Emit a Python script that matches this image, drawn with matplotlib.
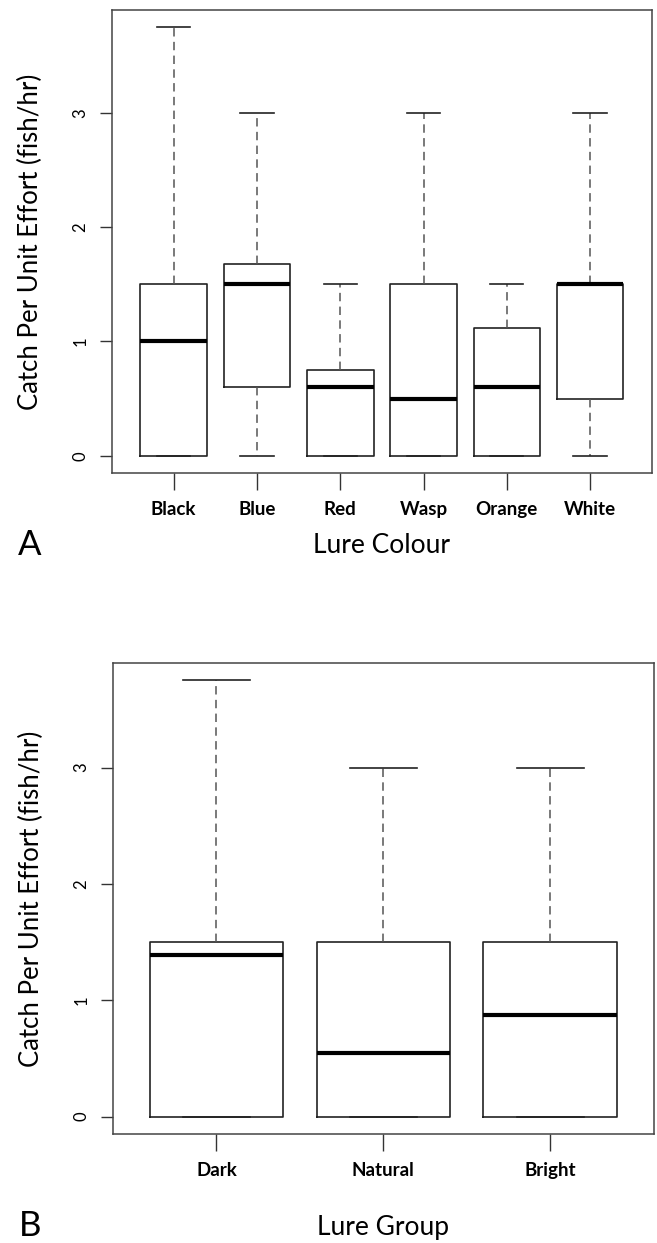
import matplotlib.pyplot as plt

# panel A: catch per unit effort by lure colour (box stats)
colours = ['Black', 'Blue', 'Red', 'Wasp', 'Orange', 'White']
colour_lo = [0, 0, 0, 0, 0, 0]
colour_q1 = [0, 0.6, 0, 0, 0, 0.5]
colour_med = [1.0, 1.5, 0.6, 0.5, 0.6, 1.5]
colour_q3 = [1.5, 1.68, 0.75, 1.5, 1.12, 1.5]
colour_hi = [3.75, 3.0, 1.5, 3.0, 1.5, 3.0]

# panel B: by lure group
groups = ['Dark', 'Natural', 'Bright']
group_lo = [0, 0, 0]
group_q1 = [0, 0, 0]
group_med = [1.39, 0.55, 0.87]
group_q3 = [1.5, 1.5, 1.5]
group_hi = [3.75, 3.0, 3.0]

plt.rcParams['font.family'] = ['Lato', 'DejaVu Sans']


def r_boxplot(ax, names, lo, q1, med, q3, hi, xlabel, xpad):
    stats = []
    for n, a, b, c, d, e in zip(names, lo, q1, med, q3, hi):
        stats.append(dict(label=n, whislo=a, q1=b, med=c, q3=d, whishi=e, fliers=[]))
    ax.bxp(stats, widths=0.8, capwidths=0.4, showfliers=False,
           boxprops=dict(color='#222222', lw=1.2),
           medianprops=dict(color='#000000', lw=3, solid_capstyle='butt'),
           whiskerprops=dict(color='#555555', lw=1.1, linestyle=(0, (5.5, 3.5))),
           capprops=dict(color='#222222', lw=1.2))
    n = len(names)
    ax.set_xlim(0.5 - 0.04 * n, n + 0.5 + 0.04 * n)
    ax.set_ylim(-0.15, 3.9)
    ax.set_yticks([0, 1, 2, 3])
    ax.set_yticklabels(['0', '1', '2', '3'], rotation=90, va='center', fontsize=12)
    ax.tick_params(axis='y', length=9, width=1, pad=8, color='#333333')
    ax.tick_params(axis='x', length=12, width=1, pad=8, color='#333333',
                   labelsize=13.5)
    for lab in ax.get_xticklabels():
        lab.set_fontweight('bold')
    for sp in ax.spines.values():
        sp.set_color('#444444')
        sp.set_linewidth(1.1)
    ax.set_ylabel('Catch Per Unit Effort (fish/hr)', fontsize=18.5)
    ax.yaxis.set_label_coords(-0.128, 0.5)
    ax.set_xlabel(xlabel, fontsize=19, labelpad=xpad)


fig = plt.figure(figsize=(6.57, 12.43), dpi=100)
axA = fig.add_axes([0.1705, 0.6195, 0.8215, 0.3725])
axB = fig.add_axes([0.172, 0.0877, 0.823, 0.3789])

r_boxplot(axA, colours, colour_lo, colour_q1, colour_med, colour_q3, colour_hi,
          'Lure Colour', 11)
r_boxplot(axB, groups, group_lo, group_q1, group_med, group_q3, group_hi,
          'Lure Group', 26)

fig.text(30 / 657, 1 - 545 / 1243, 'A', fontsize=25, ha='center', va='center')
fig.text(30 / 657, 1 - 1226 / 1243, 'B', fontsize=25, ha='center', va='center')

fig.savefig('out.png', dpi=100)
